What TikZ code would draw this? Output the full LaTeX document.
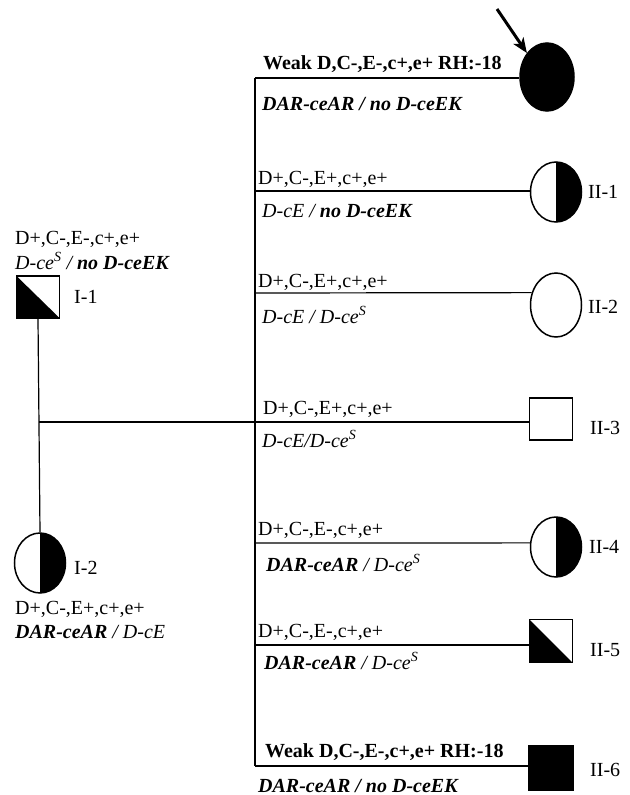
\documentclass[tikz,border=0pt]{standalone}
\usepackage{fontspec}
\setmainfont{Liberation Serif}
\usetikzlibrary{shapes.geometric,arrows.meta}
\begin{document}
\begin{tikzpicture}[x=1bp,y=-1bp,
  every node/.style={inner sep=0pt},
  txt/.style={anchor=base west,font=\fontsize{20bp}{24bp}\selectfont},
  lbl/.style={anchor=west,font=\fontsize{20bp}{24bp}\selectfont},
  link/.style={line width=1.2bp},
  female/.style={draw,ellipse,line width=1.5bp,minimum width=51bp,minimum height=60bp,fill=white},
  halffemale/.style={female,path picture={\fill[black] (path picture bounding box.north) rectangle (path picture bounding box.south east);}},
  affectedfemale/.style={female,fill=black},
  male/.style={draw,rectangle,line width=1.5bp,minimum width=43bp,minimum height=42bp,fill=white},
  diagmale/.style={male,path picture={\fill[black] (path picture bounding box.north west) -- (path picture bounding box.south east) -- (path picture bounding box.south west) -- cycle;}},
  affectedmale/.style={male,fill=black}]
\useasboundingbox (0,0) rectangle (630,795);

% parents
\node[diagmale] (I1) at (38,297) {};
\node[lbl] (lI1) at (74,297) {I-1};
\node[halffemale] (I2) at (40,563) {};
\node[lbl] (lI2) at (74,568) {I-2};
\node[txt] (tI1a) at (15,244) {D+,C-,E-,c+,e+};
\node[txt] (tI1b) at (15,269) {\textit{D-ce\textsuperscript{S} / \textbf{no D-ceEK}}};
\node[txt] (tI2a) at (15,614) {D+,C-,E+,c+,e+};
\node[txt] (tI2b) at (15,638) {\textit{\textbf{DAR-ceAR} / D-cE}};

% children
\node[affectedfemale,minimum width=54bp,minimum height=68bp] (P) at (547,77) {};
\node[halffemale] (C1) at (556,192) {};
\node[female,minimum height=64bp] (C2) at (556,305) {};
\node[male] (C3) at (551,419) {};
\node[halffemale] (C4) at (556,547) {};
\node[diagmale,minimum height=43bp] (C5) at (551,641) {};
\node[affectedmale,minimum width=45bp,minimum height=45bp] (C6) at (551,768) {};

\node[lbl] (l1) at (588,192) {II-1};
\node[lbl] (l2) at (588,307) {II-2};
\node[lbl] (l3) at (590,428) {II-3};
\node[lbl] (l4) at (589,547) {II-4};
\node[lbl] (l5) at (590,650) {II-5};
\node[lbl] (l6) at (590,770) {II-6};

% sibship line
\coordinate (s0) at (255,78);
\coordinate (s1) at (255,191);
\coordinate (s2) at (255,293);
\coordinate (s3) at (255,422);
\coordinate (s4) at (255,543);
\coordinate (s5) at (255,645);
\coordinate (s6) at (255,766);
\coordinate (m) at (39,422);

\draw[link] (s0) -- (s6);
\draw[link] (s0) -- (s0 -| P.west);
\draw[link] (s1) -- (s1 -| C1.west);
\draw[link] (s2) -- (C2.153);
\draw[link] (s4) -- (C4.171);
\draw[link] (s5) -- (s5 -| C5.west);
\draw[link] (s6) -- (s6 -| C6.west);
\draw[link] (I1.south) -- (I2.north);
\draw[link] (m) -- (m -| C3.west);

% arrow to the proband
\coordinate (a0) at (497,9);
\draw[line width=3bp,-{Stealth[length=15bp,width=12bp,inset=4bp]}] (a0) -- (P.130);

% phenotypes and genotypes
\node[txt] (t0a) at (263,70) {\textbf{Weak D,C-,E-,c+,e+ RH:-18}};
\node[txt] (t0b) at (262,110) {\textbf{\textit{DAR-ceAR / no D-ceEK}}};
\node[txt] (t1a) at (258,184) {D+,C-,E+,c+,e+};
\node[txt] (t1b) at (262,217) {\textit{D-cE / \textbf{no D-ceEK}}};
\node[txt] (t2a) at (258,287) {D+,C-,E+,c+,e+};
\node[txt] (t2b) at (262,323) {\textit{D-cE / D-ce\textsuperscript{S}}};
\node[txt] (t3a) at (263,414) {D+,C-,E+,c+,e+};
\node[txt] (t3b) at (262,447) {\textit{D-cE/D-ce\textsuperscript{S}}};
\node[txt] (t4a) at (258,535) {D+,C-,E-,c+,e+};
\node[txt] (t4b) at (266,571) {\textit{\textbf{DAR-ceAR} / D-ce\textsuperscript{S}}};
\node[txt] (t5a) at (258,637) {D+,C-,E-,c+,e+};
\node[txt] (t5b) at (264,669) {\textit{\textbf{DAR-ceAR} / D-ce\textsuperscript{S}}};
\node[txt] (t6a) at (265,757) {\textbf{Weak D,C-,E-,c+,e+ RH:-18}};
\node[txt] (t6b) at (258,792) {\textbf{\textit{DAR-ceAR / no D-ceEK}}};
\end{tikzpicture}
\end{document}
